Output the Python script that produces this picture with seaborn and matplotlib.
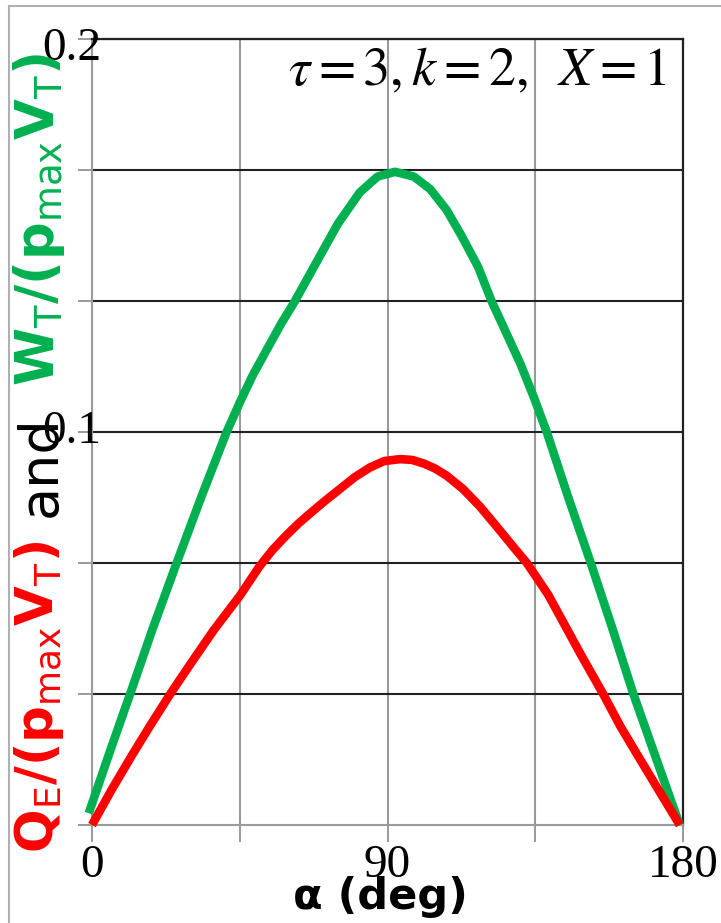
import numpy as np
import pandas as pd
import seaborn as sns
import matplotlib
matplotlib.use("Agg")
import matplotlib.pyplot as plt
import matplotlib.transforms as mtransforms
from matplotlib.lines import Line2D

# ---- data ----
green_angle = [-1, 6, 11.6, 18.5, 25.8, 33.3, 41.0, 45, 49, 53.6, 57.7, 61.8, 67.9,
               74.9, 81.6, 87, 92.3, 98, 103, 108, 112.5, 117.6, 121.7, 126, 130.4,
               134.5, 138.5, 145, 151.9, 158.5, 164.9, 172, 179]
green_val = [0.003, 0.020, 0.0333, 0.050, 0.0667, 0.0835, 0.1, 0.1075, 0.1145,
             0.1215, 0.1277, 0.1333, 0.1425, 0.1530, 0.1610, 0.1650, 0.1662,
             0.1650, 0.1618, 0.1565, 0.1500, 0.1420, 0.1333, 0.1255, 0.1175,
             0.1090, 0.1, 0.0835, 0.0667, 0.0500, 0.0333, 0.0165, 0.0]
red_angle = [0, 6, 12, 17.5, 23.8, 30, 37, 45, 51, 55, 59.3, 63, 67, 71, 75.5, 80,
             84.7, 89, 93.8, 97.5, 101, 104.5, 108, 113, 118.2, 123, 128.3, 132.4,
             135.4, 139, 142.6, 149, 155.7, 161, 167, 173, 179]
red_val = [0.0, 0.009, 0.0175, 0.025, 0.0333, 0.041, 0.0495, 0.0583, 0.0658, 0.0700,
           0.0738, 0.0768, 0.0797, 0.0825, 0.0855, 0.0885, 0.0910, 0.0926, 0.0931,
           0.0929, 0.0920, 0.0907, 0.0889, 0.0855, 0.0810, 0.0762, 0.0708, 0.0667,
           0.0630, 0.0585, 0.0530, 0.0432, 0.0333, 0.0250, 0.0166, 0.0083, 0.0]

x_ticks = [0, 45, 90, 135, 180]
x_tick_labels = ["0", "", "90", "", "180"]
y_grid = [0, 1/30, 2/30, 3/30, 4/30, 5/30, 6/30]
y_label_vals = [0.1, 0.2]
y_label_txt = ["0.1", "0.2"]
annot = r"$\tau = 3,k = 2,\;\;X = 1$"

W, H = 721, 923
fig = plt.figure(figsize=(W/100, H/100), dpi=100)
fig.patch.set_facecolor("white")

L, R, B, T = 92, 683, 825, 39
ax = fig.add_axes([L/W, 1 - B/H, (R-L)/W, (B-T)/H])
ax.set_facecolor("white")

dg = pd.DataFrame({"angle": green_angle, "val": green_val})
dr = pd.DataFrame({"angle": red_angle, "val": red_val})
sns.lineplot(data=dg, x="angle", y="val", ax=ax, color="#00B050", lw=6.2, sort=False)
sns.lineplot(data=dr, x="angle", y="val", ax=ax, color="#FF0000", lw=6.2, sort=False)
for ln in ax.lines:
    ln.set_clip_on(False)
    ln.set_solid_capstyle("butt")
    ln.set_solid_joinstyle("round")
    ln.set_zorder(5)

ax.set_xlim(0, 180)
ax.set_ylim(0, 0.2)
ax.set_xlabel("")
ax.set_ylabel("")

ax.set_xticks(x_ticks)
ax.set_xticklabels(x_tick_labels, family="Liberation Serif", fontsize=34)
ax.set_yticks(y_grid)
ax.set_yticklabels([""] * len(y_grid))
ax.tick_params(axis="x", direction="out", length=12, width=1.4, color="#9a9a9a", pad=2)
ax.tick_params(axis="y", direction="out", length=10, width=1.4, color="#9a9a9a")

ax.set_axisbelow(True)
ax.xaxis.grid(True, color="#999999", lw=1.5)
ax.yaxis.grid(True, color="#222222", lw=1.5)
ax.yaxis.get_gridlines()[0].set_visible(False)

for s in ["left", "bottom"]:
    ax.spines[s].set_color("#9a9a9a")
    ax.spines[s].set_linewidth(1.5)
for s in ["right", "top"]:
    ax.spines[s].set_color("#222222")
    ax.spines[s].set_linewidth(1.6)

# y value labels (drawn overlapping the axis like in the reference)
trans = mtransforms.blended_transform_factory(fig.transFigure, ax.transData)
ax.text(72/W, y_label_vals[0], y_label_txt[0], transform=trans, ha="center", va="center",
        family="Liberation Serif", fontsize=34, zorder=6)
ax.text(72/W, y_label_vals[1], y_label_txt[1],
        transform=trans + mtransforms.ScaledTranslation(0, -10/100, fig.dpi_scale_trans),
        ha="center", va="center", family="Liberation Serif", fontsize=34, zorder=6)

# annotation
fig.text(667/W, 1 - 70/H, annot, ha="right", va="center", fontsize=39,
         math_fontfamily="stix")

# x label
fig.text(380/W, 1 - 897/H, "α (deg)", ha="center", va="center", fontsize=31,
         fontweight="bold", family="DejaVu Sans")

# y label in three colours
red_lbl = r"$\mathbf{Q}_\mathsf{E}\mathbf{/(p}_\mathsf{max}\mathbf{V}_\mathsf{T}\mathbf{)}$"
green_lbl = r"$\mathbf{W}_\mathsf{T}\mathbf{/(p}_\mathsf{max}\mathbf{V}_\mathsf{T}\mathbf{)}$"
fig.text(39/W, 1 - 697/H, red_lbl, rotation=90, ha="center", va="center",
         color="#FF0000", fontsize=37, math_fontfamily="dejavusans")
fig.text(41/W, 1 - 466/H, "and", rotation=90, ha="center", va="center",
         color="black", fontsize=39, family="DejaVu Sans")
fig.text(39/W, 1 - 219/H, green_lbl, rotation=90, ha="center", va="center",
         color="#00B050", fontsize=38, math_fontfamily="dejavusans")

# light outer frame
fig.add_artist(Line2D([9/W, 1], [1 - 6/H, 1 - 6/H], transform=fig.transFigure,
                      color="#b0b0b0", lw=1.5))
fig.add_artist(Line2D([9/W, 9/W], [0, 1 - 6/H], transform=fig.transFigure,
                      color="#b0b0b0", lw=1.5))

fig.savefig("out.png", dpi=100, facecolor="white")
